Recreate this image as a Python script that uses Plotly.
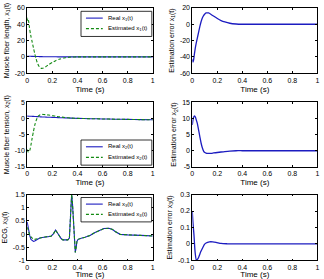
import plotly.graph_objects as go

# ---------------- data ----------------
T12 = [0, 0.005, 0.01, 0.018, 0.025, 0.03, 0.04, 0.05, 0.06, 0.07, 0.08, 0.09, 0.10,
       0.11, 0.12, 0.13, 0.15, 0.17, 0.20, 0.23, 0.26, 0.30, 0.35, 0.4, 0.5, 0.6,
       0.7, 0.8, 0.9, 1.0]

real_x1 = [0.8, 0.8, 0.8, 0.8, 0.7, 0.7, 0.6, 0.6, 0.5, 0.5, 0.4, 0.4, 0.3, 0.3, 0.3,
           0.2, 0.2, 0.1, 0.1, 0.1, 0, 0, 0, 0, 0, 0, 0, 0, 0, 0]
est_x1 = [44, 47.5, 45, 36, 29, 25, 18, 11, 4, -2, -7, -10.5, -12.8, -13.8, -14, -13.6,
          -11.8, -9.6, -6.8, -4.4, -2.7, -1.1, -0.2, 0, 0, 0, 0, 0, 0, 0]
err_x1 = [-43, -46.5, -44, -35, -28, -24, -17, -10, -3, 3, 7.5, 10.5, 12.5, 13.8, 14,
          13.8, 12, 10, 7, 4.5, 2.8, 1.2, 0.3, 0, 0, 0, 0, 0, 0, 0]

real_x2 = [0.75, 0.75, 0.74, 0.73, 0.72, 0.71, 0.69, 0.67, 0.65, 0.62, 0.6, 0.57, 0.55,
           0.52, 0.5, 0.48, 0.44, 0.41, 0.36, 0.31, 0.26, 0.2, 0.12, 0.06, -0.04, -0.12,
           -0.2, -0.27, -0.33, -0.38]
est_x2 = [-9.6, -10.2, -10.4, -10.2, -9.2, -8.2, -6, -4, -2.1, -0.8, 0.2, 0.8, 1.1,
          1.22, 1.28, 1.28, 1.2, 1.08, 0.9, 0.7, 0.52, 0.32, 0.15, 0.06, -0.04, -0.12,
          -0.2, -0.27, -0.33, -0.38]
err_x2 = [8, 9.5, 10.4, 10.8, 10.4, 9.8, 8.5, 6.5, 4.4, 2.4, 0.9, -0.1, -0.55, -0.75,
          -0.85, -0.85, -0.8, -0.7, -0.55, -0.4, -0.25, -0.1, 0, 0, 0, 0, 0, 0, 0, 0]

T3 = [0, 0.01, 0.02, 0.03, 0.04, 0.05, 0.06, 0.08, 0.1, 0.12, 0.14, 0.17, 0.19, 0.21,
      0.226, 0.24, 0.258, 0.27, 0.284, 0.3, 0.323, 0.336, 0.345, 0.354, 0.36, 0.367,
      0.375, 0.383, 0.39, 0.396, 0.405, 0.414, 0.43, 0.46, 0.5, 0.54, 0.58, 0.61, 0.65,
      0.68, 0.7, 0.74, 0.8, 0.85, 0.9, 0.95, 1.0]
real_x3 = [0.46, 0.15, -0.05, -0.2, -0.26, -0.28, -0.26, -0.2, -0.15, -0.13, -0.11,
           -0.09, -0.08, 0.02, 0.15, 0.05, -0.09, -0.17, -0.22, -0.22, -0.22, -0.15, 0.5,
           1.52, 1.2, 0.46, -0.15, -0.7, -0.5, -0.28, -0.2, -0.18, -0.16, -0.12, -0.05,
           0.06, 0.15, 0.21, 0.22, 0.17, 0.1, -0.01, -0.03, -0.03, -0.05, -0.06, -0.07]
est_x3 = [0.26, 0.06, -0.03, -0.11, -0.165, -0.2, -0.2, -0.17, -0.15, -0.13, -0.11,
          -0.09, -0.08, 0.02, 0.15, 0.05, -0.09, -0.17, -0.22, -0.22, -0.22, -0.15, 0.5,
          1.52, 1.2, 0.46, -0.15, -0.7, -0.5, -0.28, -0.2, -0.18, -0.16, -0.12, -0.05,
          0.06, 0.15, 0.21, 0.22, 0.17, 0.1, -0.01, -0.03, -0.03, -0.05, -0.06, -0.07]

TE3 = [0, 0.005, 0.013, 0.02, 0.024, 0.032, 0.04, 0.05, 0.06, 0.071, 0.085, 0.097,
       0.11, 0.137, 0.163, 0.19, 0.23, 0.28, 0.335, 0.4, 0.5, 0.6, 0.7, 0.8, 0.9, 1.0]
err_x3 = [0.197, 0.13, 0.057, -0.03, -0.062, -0.098, -0.095, -0.082, -0.062, -0.042,
          -0.02, -0.003, 0.006, 0.013, 0.013, 0.01, 0.003, 0.001, 0, 0, 0, 0, 0, 0, 0, 0]

X_TICKS = [0, 0.2, 0.4, 0.6, 0.8, 1]
X_TICKTEXT = ["0", "0.2", "0.4", "0.6", "0.8", "1"]

Y_TICKS = {
    1: ([-20, 0, 20, 40, 60], ["-20", "0", "20", "40", "60"], [-20, 60]),
    2: ([-60, -40, -20, 0, 20], ["-60", "-40", "-20", "0", "20"], [-60, 20]),
    3: ([-15, -10, -5, 0, 5], ["-15", "-10", "-5", "0", "5"], [-15, 5]),
    4: ([-5, 0, 5, 10, 15], ["-5", "0", "5", "10", "15"], [-5, 15]),
    5: ([-1, -0.5, 0, 0.5, 1, 1.5], ["-1", "-0.5", "0", "0.5", "1", "1.5"], [-1, 1.5]),
    6: ([-0.1, 0, 0.1, 0.2, 0.3], ["-0.1", "0", "0.1", "0.2", "0.3"], [-0.1, 0.3]),
}
Y_TITLES = {
    1: "Muscle fiber length, x<sub>1</sub>(t)",
    2: "Estimation error x<sub>1</sub>(t)",
    3: "Muscle fiber tension, x<sub>2</sub>(t)",
    4: "Estimation error x<sub>2</sub>(t)",
    5: "ECG, x<sub>3</sub>(t)",
    6: "Estimation error x<sub>3</sub>(t)",
}
LEGEND_LABELS = {
    1: ("Real x<sub>1</sub>(t)", "Estimated x<sub>1</sub>(t)"),
    3: ("Real x<sub>2</sub>(t)", "Estimated x<sub>2</sub>(t)"),
    5: ("Real x<sub>3</sub>(t)", "Estimated x<sub>3</sub>(t)"),
}

# ---------------- layout geometry ----------------
W, H = 324, 279
FONT = "Liberation Sans, Arial, Helvetica, sans-serif"
BLUE = "#1c1cc0"
GREEN = "#138a13"

col_px = {0: (25.5, 152.7), 1: (192.7, 319.3)}
row_px = {0: (4, 71), 1: (101, 167), 2: (195.5, 263)}


def xdom(c):
    a, b = col_px[c]
    return [a / W, b / W]


def ydom(r):
    t, b = row_px[r]
    return [1 - b / H, 1 - t / H]


fig = go.Figure()


def add_line(idx, x, y, color, dash="solid", width=1.1, shape="spline"):
    suffix = "" if idx == 1 else str(idx)
    fig.add_trace(go.Scatter(
        x=x, y=y, mode="lines", xaxis="x" + suffix, yaxis="y" + suffix,
        line=dict(color=color, width=width, dash=dash, shape=shape, smoothing=0.6),
        showlegend=False, hoverinfo="skip"))


add_line(1, T12, real_x1, BLUE)
add_line(1, T12, est_x1, GREEN, dash="3px,2px")
add_line(2, T12, err_x1, BLUE, width=1.3)
add_line(3, T12, real_x2, BLUE)
add_line(3, T12, est_x2, GREEN, dash="3px,2px")
add_line(4, T12, err_x2, BLUE, width=1.3)
add_line(5, T3, real_x3, BLUE, shape="linear")
add_line(5, T3, est_x3, GREEN, dash="3px,2px", shape="linear")
add_line(6, TE3, err_x3, BLUE, width=1.3)

layout = dict(
    width=W, height=H, margin=dict(l=0, r=0, t=0, b=0),
    paper_bgcolor="white", plot_bgcolor="white",
    font=dict(family=FONT, size=6, color="black"),
    showlegend=False,
)

for idx in range(1, 7):
    r = (idx - 1) // 2
    c = (idx - 1) % 2
    suffix = "" if idx == 1 else str(idx)
    tv, tt, rng = Y_TICKS[idx]
    common = dict(showline=True, linecolor="black", linewidth=0.8, mirror="ticks",
                  ticks="inside", ticklen=2, tickwidth=0.8, tickcolor="black",
                  showgrid=False, zeroline=False, tickfont=dict(size=7, family=FONT),
                  fixedrange=True)
    layout["xaxis" + suffix] = dict(
        domain=xdom(c), anchor="y" + suffix, range=[0, 1],
        tickvals=X_TICKS, ticktext=X_TICKTEXT,
        title=dict(text="Time (s)", font=dict(size=8, family=FONT), standoff=3),
        **common)
    layout["yaxis" + suffix] = dict(
        domain=ydom(r), anchor="x" + suffix, range=rng,
        tickvals=tv, ticktext=tt,
        title=dict(text=Y_TITLES[idx], font=dict(size=7, family=FONT), standoff=4),
        **common)

fig.update_layout(**layout)

# ---------------- legends (boxes in the left column) ----------------
legend_px = {1: (80, 7.5, 151.7, 33.3), 3: (80, 139.5, 151.7, 165.3), 5: (80, 198.5, 151.5, 223.5)}
shapes = []
annotations = []
for idx, (x0, y0, x1, y1) in legend_px.items():
    shapes.append(dict(type="rect", xref="paper", yref="paper",
                       x0=x0 / W, x1=x1 / W, y0=1 - y1 / H, y1=1 - y0 / H,
                       line=dict(color="black", width=0.8), fillcolor="white", layer="above"))
    hh = y1 - y0
    for k, (lab, col, dash) in enumerate(zip(LEGEND_LABELS[idx], (BLUE, GREEN), ("solid", "3px,2px"))):
        yy = y0 + hh * (0.27 if k == 0 else 0.69)
        shapes.append(dict(type="line", xref="paper", yref="paper",
                           x0=(x0 + 5) / W, x1=(x0 + 22) / W, y0=1 - yy / H, y1=1 - yy / H,
                           line=dict(color=col, width=1.1, dash=dash), layer="above"))
        annotations.append(dict(xref="paper", yref="paper", x=(x0 + 25) / W, y=1 - yy / H,
                                xanchor="left", yanchor="middle", showarrow=False,
                                text=lab, font=dict(size=6, family=FONT, color="black")))

fig.update_layout(shapes=shapes, annotations=annotations)
fig.write_html("out.html")
